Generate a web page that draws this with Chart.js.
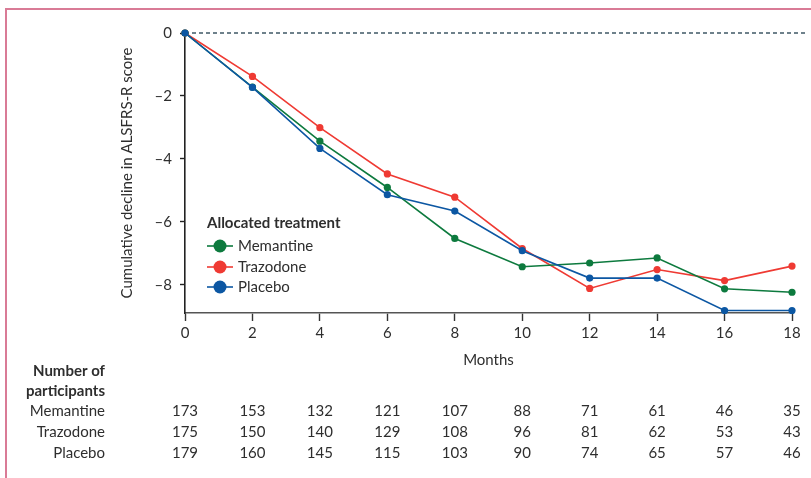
<!DOCTYPE html>
<html>
<head>
<meta charset="utf-8">
<script src="https://cdn.jsdelivr.net/npm/chart.js@4.4.1/dist/chart.umd.min.js"></script>
<style>
  body { margin: 0; background: #fff; }
  canvas { display: block; }
</style>
</head>
<body>
<canvas id="declineChart" width="811" height="478"></canvas>
<script>
// months of follow-up
const months = [0, 2, 4, 6, 8, 10, 12, 14, 16, 18];

// cumulative decline in ALSFRS-R score
const memantine = [0, -1.72, -3.44, -4.91, -6.53, -7.43, -7.31, -7.15, -8.13, -8.24];
const trazodone = [0, -1.38, -3.01, -4.48, -5.22, -6.85, -8.12, -7.52, -7.87, -7.41];
const placebo   = [0, -1.73, -3.67, -5.14, -5.66, -6.92, -7.79, -7.79, -8.82, -8.82];

// number of participants at each visit
const nMemantine = [173, 153, 132, 121, 107, 88, 71, 61, 46, 35];
const nTrazodone = [175, 150, 140, 129, 108, 96, 81, 62, 53, 43];
const nPlacebo   = [179, 160, 145, 115, 103, 90, 74, 65, 57, 46];

const yTicks = [0, -2, -4, -6, -8];

const groups = ['Memantine', 'Trazodone', 'Placebo'];
const colors = ['#0d7a3e', '#ef3a33', '#0c57a3'];

const FONT = 'Lato, "Open Sans", sans-serif';
const TEXT = '#2e2e2e';

function toPoints(values) {
    return months.map(function(m, i) { return { x: m, y: values[i] }; });
}

// lower order is drawn on top, placebo sits over the others
function makeDataset(label, values, color, order) {
    return {
        label: label,
        data: toPoints(values),
        borderColor: color,
        backgroundColor: color,
        borderWidth: 1.6,
        pointRadius: 3.6,
        pointBorderWidth: 0,
        tension: 0,
        clip: false,
        order: order
    };
}

// zero line, legend, table and frame drawn straight on the canvas
const extras = {
    id: 'extras',
    beforeDraw(chart) {
        const ctx = chart.ctx;
        ctx.save();
        ctx.strokeStyle = '#d97b96';
        ctx.lineWidth = 2;
        ctx.beginPath();
        ctx.moveTo(6, 478);
        ctx.lineTo(6, 9);
        ctx.lineTo(811, 9);
        ctx.stroke();
        ctx.restore();
    },
    beforeDatasetsDraw(chart) {
        const ctx = chart.ctx;
        const y0 = chart.scales.y.getPixelForValue(0);
        ctx.save();
        ctx.strokeStyle = '#3f5866';
        ctx.lineWidth = 1.3;
        ctx.setLineDash([4, 3]);
        ctx.beginPath();
        ctx.moveTo(chart.chartArea.left, y0);
        ctx.lineTo(808, y0);
        ctx.stroke();
        ctx.restore();
    },
    afterDraw(chart) {
        const ctx = chart.ctx;
        const x = chart.scales.x;
        ctx.save();

        // x axis title
        ctx.fillStyle = TEXT;
        ctx.font = '15px ' + FONT;
        ctx.textAlign = 'center';
        ctx.textBaseline = 'middle';
        ctx.fillText('Months', (chart.chartArea.left + chart.chartArea.right) / 2, 360);

        // legend
        ctx.textAlign = 'left';
        ctx.font = 'bold 15px ' + FONT;
        ctx.fillText('Allocated treatment', 207, 223);
        ctx.font = '15px ' + FONT;
        const legendY = [246, 267, 287];
        for (let i = 0; i < groups.length; i++) {
            ctx.strokeStyle = colors[i];
            ctx.fillStyle = colors[i];
            ctx.lineWidth = 1.6;
            ctx.beginPath();
            ctx.moveTo(207, legendY[i]);
            ctx.lineTo(233, legendY[i]);
            ctx.stroke();
            ctx.beginPath();
            ctx.arc(220, legendY[i], 6.5, 0, Math.PI * 2);
            ctx.fill();
            ctx.fillStyle = TEXT;
            ctx.fillText(groups[i], 238, legendY[i]);
        }

        // number at risk table
        ctx.textAlign = 'right';
        ctx.font = 'bold 15px ' + FONT;
        ctx.fillText('Number of', 105, 371);
        ctx.fillText('participants', 105, 391);
        const rows = [nMemantine, nTrazodone, nPlacebo];
        const rowY = [411, 432, 453];
        ctx.font = '15px ' + FONT;
        for (let r = 0; r < rows.length; r++) {
            ctx.textAlign = 'right';
            ctx.fillText(groups[r], 105, rowY[r]);
            ctx.textAlign = 'center';
            for (let i = 0; i < months.length; i++) {
                ctx.fillText(String(rows[r][i]), x.getPixelForValue(months[i]), rowY[r]);
            }
        }
        ctx.restore();
    }
};

new Chart(document.getElementById('declineChart').getContext('2d'), {
    type: 'line',
    data: {
        datasets: [
            makeDataset(groups[0], memantine, colors[0], 1),
            makeDataset(groups[1], trazodone, colors[1], 2),
            makeDataset(groups[2], placebo, colors[2], 0)
        ]
    },
    options: {
        responsive: false,
        animation: false,
        layout: { padding: { left: 0, top: 33, right: 19, bottom: 0 } },
        plugins: {
            legend: { display: false },
            tooltip: { enabled: false }
        },
        scales: {
            x: {
                type: 'linear',
                min: 0,
                max: 18,
                afterFit: function(scale) { scale.height = 165; },
                afterBuildTicks: function(scale) {
                    scale.ticks = months.map(function(m) { return { value: m }; });
                },
                border: { display: true, color: '#555', width: 1.6 },
                grid: { drawOnChartArea: false, drawTicks: true, tickLength: 8, tickColor: '#333', tickWidth: 1.4 },
                ticks: { color: TEXT, font: { family: FONT, size: 15 }, padding: 3, maxRotation: 0 }
            },
            y: {
                min: -8.9,
                max: 0,
                afterFit: function(scale) { scale.width = 185; },
                afterBuildTicks: function(scale) {
                    scale.ticks = yTicks.map(function(v) { return { value: v }; });
                },
                border: { display: true, color: '#222', width: 1.6 },
                grid: { drawOnChartArea: false, drawTicks: true, tickLength: 5, tickColor: '#222', tickWidth: 1.4 },
                ticks: {
                    color: TEXT,
                    font: { family: FONT, size: 15 },
                    padding: 8,
                    callback: function(v) { return v < 0 ? '\u2013' + Math.abs(v) : String(v); }
                },
                title: {
                    display: true,
                    text: 'Cumulative decline in ALSFRS-R score',
                    color: TEXT,
                    font: { family: FONT, size: 15 },
                    padding: { top: 118, bottom: 0 }
                }
            }
        }
    },
    plugins: [extras]
});
</script>
</body>
</html>
